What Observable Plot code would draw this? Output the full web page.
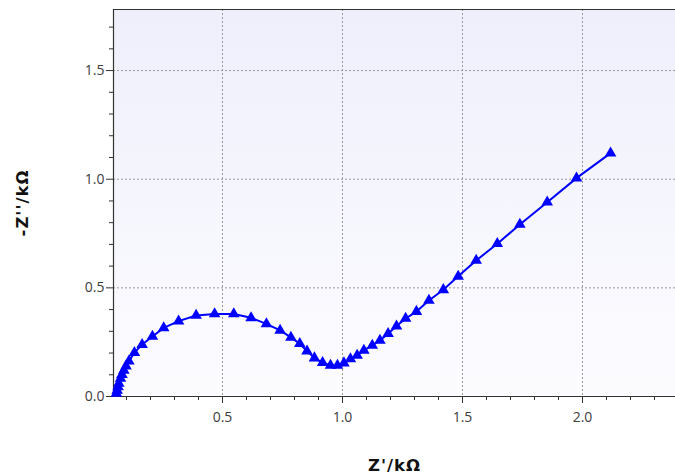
<!DOCTYPE html>
<html><head><meta charset="utf-8">
<script src="https://cdn.jsdelivr.net/npm/d3@7"></script>
<script src="https://cdn.jsdelivr.net/npm/@observablehq/plot@0.6"></script>
<style>body{margin:0;background:#fff} svg{display:block}</style>
</head><body><div id="chart"></div>
<script>
// Z' (kΩ) and -Z'' (kΩ)
const zReal = [0.058,0.061,0.065,0.068,0.075,0.081,0.089,0.098,0.110,0.133,0.165,0.208,0.255,0.317,0.390,0.467,0.547,0.619,0.683,0.740,0.785,0.822,0.852,0.883,0.917,0.950,0.979,1.006,1.033,1.061,1.089,1.124,1.156,1.190,1.225,1.263,1.308,1.360,1.420,1.482,1.557,1.645,1.739,1.853,1.975,2.117];
const zImag = [0.014,0.028,0.044,0.060,0.083,0.101,0.120,0.140,0.163,0.202,0.239,0.276,0.316,0.347,0.373,0.380,0.380,0.362,0.334,0.304,0.272,0.243,0.209,0.177,0.156,0.143,0.143,0.154,0.173,0.189,0.212,0.235,0.258,0.289,0.324,0.359,0.391,0.442,0.491,0.553,0.626,0.703,0.792,0.894,1.005,1.120];

const xMajor = [0.5, 1.0, 1.5, 2.0];
const yMajor = [0.0, 0.5, 1.0, 1.5];
const xMinor = [0.1,0.2,0.3,0.4,0.6,0.7,0.8,0.9,1.1,1.2,1.3,1.4,1.6,1.7,1.8,1.9,2.1,2.2,2.3];
const yMinor = [0.1,0.2,0.3,0.4,0.6,0.7,0.8,0.9,1.1,1.2,1.3,1.4,1.6,1.7];
const xTitle = "Z'/kΩ";
const yTitle = "-Z''/kΩ";

const xDomain = [0.0458, 2.3875];
const yDomain = [0, 1.781];

const data = zReal.map((x, i) => ({x, y: zImag[i]}));
const axisColor = "#333";
const labelColor = "#404040";
const gridStyle = {stroke: "#999", strokeOpacity: 1, strokeDasharray: "2,2"};
const titleStyle = {fontWeight: "bold", fontSize: 16.5, fill: "#111", fontFamily: "'DejaVu Sans', sans-serif", textAnchor: "middle", lineAnchor: "middle"};

const svg = Plot.plot({
  width: 675, height: 475,
  marginLeft: 113, marginRight: 0, marginTop: 9, marginBottom: 79,
  x: {domain: xDomain},
  y: {domain: yDomain},
  style: {fontFamily: "'Open Sans', 'DejaVu Sans', sans-serif", fontSize: "14px", background: "#fff", color: labelColor},
  marks: [
    Plot.frame({fill: "url(#bgGrad)", stroke: null}),
    Plot.gridX({ticks: xMajor, ...gridStyle}),
    Plot.gridY({ticks: yMajor.filter(d => d > 0), ...gridStyle}),
    Plot.axisX({ticks: xMinor, tickSize: 4, text: null, label: null, stroke: axisColor}),
    Plot.axisX({ticks: xMajor, tickSize: 7, tickPadding: 9, tickFormat: d3.format(".1f"), label: null, stroke: axisColor, fill: labelColor}),
    Plot.axisY({ticks: yMinor, tickSize: 4, text: null, label: null, stroke: axisColor}),
    Plot.axisY({ticks: yMajor, tickSize: 7, tickPadding: 2, tickFormat: d3.format(".1f"), label: null, stroke: axisColor, fill: labelColor}),
    Plot.ruleY([yDomain[0]], {stroke: axisColor, strokeWidth: 1.2}),
    Plot.ruleY([yDomain[1]], {stroke: axisColor, strokeWidth: 1.2}),
    Plot.ruleX([xDomain[0]], {stroke: axisColor, strokeWidth: 1.2}),
    Plot.line(data, {x: "x", y: "y", stroke: "#0000ff", strokeWidth: 2}),
    Plot.dot(data, {x: "x", y: "y", symbol: "triangle", fill: "#0000ff", stroke: null, r: 4.3}),
    Plot.text([xTitle], {frameAnchor: "middle", dy: 263, text: d => d, ...titleStyle}),
    Plot.text([yTitle], {frameAnchor: "middle", dx: -372, dy: 0, rotate: -90, text: d => d, ...titleStyle})
  ]
});

// enforce centered anchoring and letter spacing on the two axis titles
svg.querySelectorAll("text").forEach(t => {
  if (t.textContent === xTitle || t.textContent === yTitle) {
    t.setAttribute("text-anchor", "middle");
    t.style.letterSpacing = "1px";
  }
});

const ns = "http://www.w3.org/2000/svg";
const defs = document.createElementNS(ns, "defs");
defs.innerHTML = '<linearGradient id="bgGrad" x1="0" y1="0" x2="0" y2="1"><stop offset="0" stop-color="#efeffc"/><stop offset="1" stop-color="#fcfcff"/></linearGradient>';
svg.insertBefore(defs, svg.firstChild);
document.getElementById("chart").appendChild(svg);
</script>
</body></html>
